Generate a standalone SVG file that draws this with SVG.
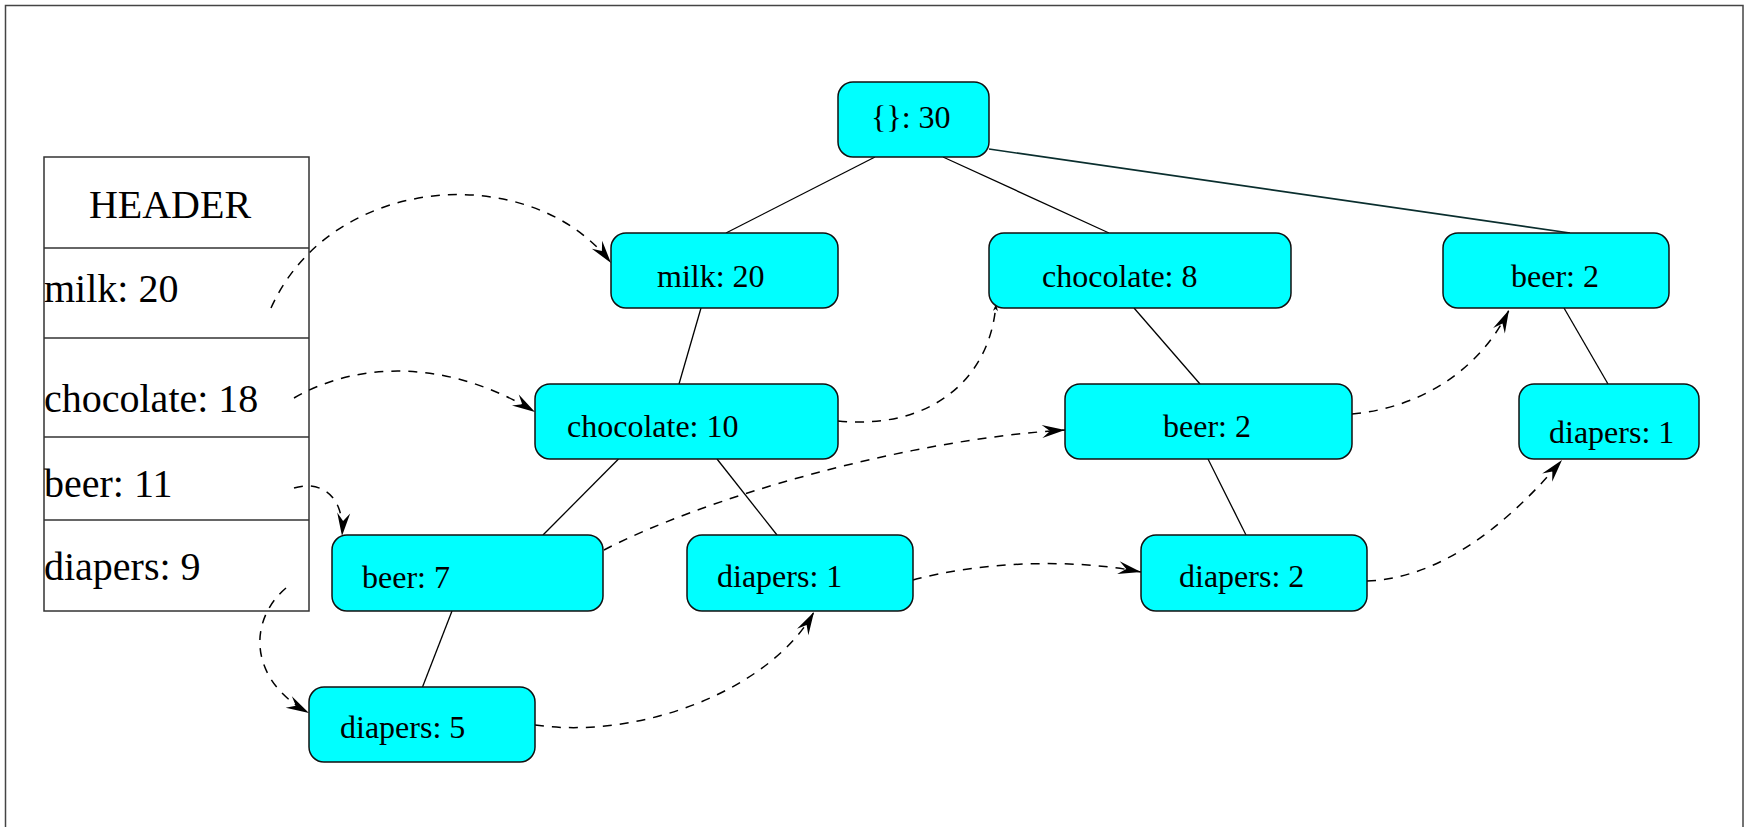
<svg xmlns="http://www.w3.org/2000/svg" width="1745" height="827" viewBox="0 0 1745 827">
<style>
.frame{fill:none;stroke:#444;stroke-width:1.5}
.tbl{fill:#fff;stroke:#333;stroke-width:1.5}
.node{fill:#00ffff;stroke:#111;stroke-width:1.5}
.tt{font-family:"Liberation Serif","Times New Roman",serif;font-size:40px;fill:#000}
.nt{font-family:"Liberation Serif","Times New Roman",serif;font-size:32px;fill:#000}
.edge{stroke:#000;stroke-width:1.3;fill:none}
.link{stroke:#000;stroke-width:1.5;fill:none;stroke-dasharray:9 8}
</style>
<defs>
<marker id="ah" viewBox="-25 -8 27 16" markerWidth="27" markerHeight="16" refX="0" refY="0" orient="auto" markerUnits="userSpaceOnUse">
<path d="M0,0 L-23,-6.5 L-15,0 L-23,6.5 Z" fill="#000"/>
</marker>
<marker id="ahs" viewBox="-9 -4 10 8" markerWidth="10" markerHeight="8" refX="0" refY="0" orient="auto" markerUnits="userSpaceOnUse">
<path d="M0,0 L-7,-2.5 L-5,0 L-7,2.5 Z" fill="#000"/>
</marker>
</defs>
<rect x="0" y="0" width="1745" height="827" fill="#fff"/>
<rect class="frame" x="5.5" y="5.5" width="1737.5" height="840"/>

<g id="header-table">
<rect class="tbl" x="44" y="157" width="265" height="454"/>
<line class="tbl" x1="44" y1="248" x2="309" y2="248"/>
<line class="tbl" x1="44" y1="338" x2="309" y2="338"/>
<line class="tbl" x1="44" y1="437" x2="309" y2="437"/>
<line class="tbl" x1="44" y1="520" x2="309" y2="520"/>
<text class="tt" x="170" y="218" text-anchor="middle">HEADER</text>
<text class="tt" x="44" y="302">milk: 20</text>
<text class="tt" x="44" y="412">chocolate: 18</text>
<text class="tt" x="44" y="497">beer: 11</text>
<text class="tt" x="44" y="580">diapers: 9</text>
</g>

<g id="connectors">
<line class="edge" x1="875" y1="157" x2="726" y2="233"/>
<line class="edge" x1="943" y1="157" x2="1109" y2="233"/>
<line class="edge" x1="989" y1="149" x2="1570" y2="233" style="stroke:#0a2e2e;stroke-width:1.6"/>
<line class="edge" x1="701" y1="308" x2="679" y2="384"/>
<line class="edge" x1="618.5" y1="459" x2="543" y2="535"/>
<line class="edge" x1="717" y1="459" x2="777" y2="535"/>
<line class="edge" x1="1134" y1="308" x2="1200" y2="384"/>
<line class="edge" x1="1208" y1="459" x2="1246" y2="535"/>
<line class="edge" x1="1564" y1="308" x2="1608" y2="384"/>
<line class="edge" x1="452" y1="611" x2="422.5" y2="687"/>

<path class="link" d="M271,308 C332,172 532,160 611,263" marker-end="url(#ah)"/>
<path class="link" d="M294,398 C360,360 450,360 535,412" marker-end="url(#ah)"/>
<path class="link" d="M294,488 C320,480 345,495 342,536" marker-end="url(#ah)"/>
<path class="link" d="M286,588 C248,620 248,680 309,713" marker-end="url(#ah)"/>
<path class="link" d="M838,421 C930,430 990,380 996,304" marker-end="url(#ahs)"/>
<path class="link" d="M604,550 C700,500 900,440 1065,430" marker-end="url(#ah)"/>
<path class="link" d="M1352,414 C1420,408 1480,370 1509,310" marker-end="url(#ah)"/>
<path class="link" d="M535,725 C640,740 770,690 814,612" marker-end="url(#ah)"/>
<path class="link" d="M913,580 C980,562 1070,558 1141,572" marker-end="url(#ah)"/>
<path class="link" d="M1367,581 C1450,578 1520,510 1562,460" marker-end="url(#ah)"/>
</g>

<g id="n-root"><rect class="node" x="838" y="82" width="151" height="75" rx="15"/><text class="nt" x="871" y="128">{}: 30</text></g>
<g id="n-milk20"><rect class="node" x="611" y="233" width="227" height="75" rx="15"/><text class="nt" x="657" y="287">milk: 20</text></g>
<g id="n-choc8"><rect class="node" x="989" y="233" width="302" height="75" rx="15"/><text class="nt" x="1042" y="287">chocolate: 8</text></g>
<g id="n-beer2a"><rect class="node" x="1443" y="233" width="226" height="75" rx="15"/><text class="nt" x="1511" y="287">beer: 2</text></g>
<g id="n-choc10"><rect class="node" x="535" y="384" width="303" height="75" rx="15"/><text class="nt" x="567" y="437">chocolate: 10</text></g>
<g id="n-beer2b"><rect class="node" x="1065" y="384" width="287" height="75" rx="15"/><text class="nt" x="1163" y="437">beer: 2</text></g>
<g id="n-diap1a"><rect class="node" x="1519" y="384" width="180" height="75" rx="15"/><text class="nt" x="1549" y="443">diapers: 1</text></g>
<g id="n-beer7"><rect class="node" x="332" y="535" width="271" height="76" rx="15"/><text class="nt" x="362" y="588">beer: 7</text></g>
<g id="n-diap1b"><rect class="node" x="687" y="535" width="226" height="76" rx="15"/><text class="nt" x="717" y="587">diapers: 1</text></g>
<g id="n-diap2"><rect class="node" x="1141" y="535" width="226" height="76" rx="15"/><text class="nt" x="1179" y="587">diapers: 2</text></g>
<g id="n-diap5"><rect class="node" x="309" y="687" width="226" height="75" rx="15"/><text class="nt" x="340" y="738">diapers: 5</text></g>
</svg>
